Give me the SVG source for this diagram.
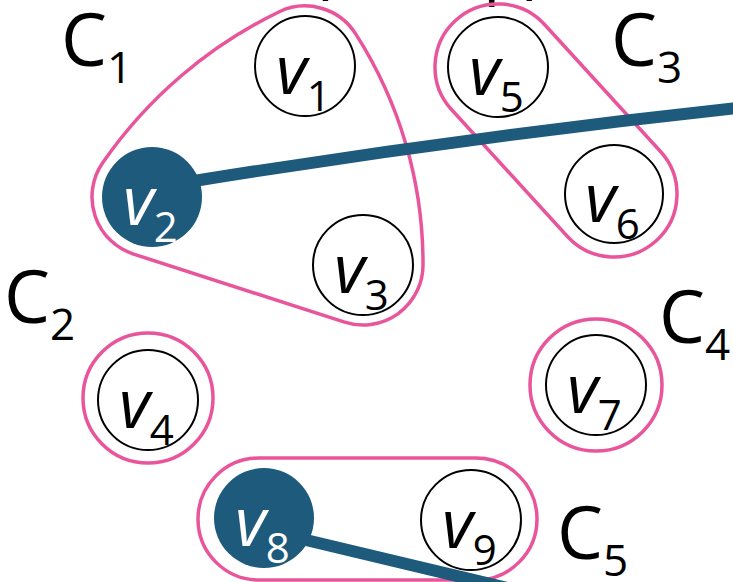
<svg xmlns="http://www.w3.org/2000/svg" width="733" height="582" viewBox="0 0 733 582">
<style>
.hull{fill:none;stroke:#e8559b;stroke-width:3.5}
.node{fill:#fff;stroke:#000;stroke-width:2}
.filled{fill:#1d5a7c;stroke:none}
.edge{fill:none;stroke:#1d5a7c;stroke-width:12;stroke-linecap:butt;stroke-linejoin:round}
.lbl{font-family:"Open Sans","Noto Sans",sans-serif;font-size:67px;font-style:italic;fill:#000}
.lbl tspan{font-size:42px;font-style:normal}
.white{fill:#fff}
.cl{font-family:"Open Sans","Noto Sans",sans-serif;font-size:73px;fill:#000}
.cl tspan{font-size:44px}
.top{font-family:"Open Sans","Noto Sans",sans-serif;font-size:70px;fill:#000}
</style>
<rect width="733" height="582" fill="#fff"/>
<text class="top" y="-10"><tspan x="310">(</tspan><tspan x="332">V</tspan><tspan x="372">,</tspan><tspan x="405">E</tspan><tspan x="448">,</tspan><tspan x="467">φ</tspan><tspan x="524">)</tspan></text>
<g id="hulls">
<path id="C1-hull" class="hull" d="M278.8,12 A60,60 0 0 1 355.5,33.6 A425.6,425.6 0 0 1 423,265.2 A60,60 0 0 1 344.6,322.1 L133.6,254.1 A60,60 0 0 1 102.7,162.8 A456.5,456.5 0 0 1 278.8,12 Z"/>
<rect id="C3-hull" class="hull" x="407" y="67.5" width="298" height="126" rx="63" transform="rotate(47.6 556 130.5)"/>
<circle id="C2-hull" class="hull" cx="148" cy="398" r="65"/>
<circle id="C4-hull" class="hull" cx="596" cy="385" r="66"/>
<rect id="C5-hull" class="hull" x="198" y="458" width="339" height="122" rx="61"/>
</g>
<g id="connectors">
<path class="edge" d="M180,183.2 L200,180 Q465.5,137.3 733,108.5 L745,107.2"/>
<path class="edge" d="M264,530 L520,591"/>
</g>
<g id="v1"><circle class="node" cx="305" cy="66" r="50"/><text class="lbl" x="276" y="94">v<tspan dy="17">1</tspan></text></g>
<g id="v2"><circle class="filled" cx="152" cy="197" r="50"/><text class="lbl white" x="123" y="225">v<tspan dy="17">2</tspan></text></g>
<g id="v3"><circle class="node" cx="363" cy="265" r="50"/><text class="lbl" x="334" y="293">v<tspan dy="17">3</tspan></text></g>
<g id="v4"><circle class="node" cx="148" cy="400" r="50"/><text class="lbl" x="119" y="428">v<tspan dy="17">4</tspan></text></g>
<g id="v5"><circle class="node" cx="498" cy="67" r="50"/><text class="lbl" x="469" y="95">v<tspan dy="17">5</tspan></text></g>
<g id="v6"><circle class="node" cx="614" cy="194" r="49"/><text class="lbl" x="585" y="222">v<tspan dy="17">6</tspan></text></g>
<g id="v7"><circle class="node" cx="596" cy="385" r="50"/><text class="lbl" x="567" y="413">v<tspan dy="17">7</tspan></text></g>
<g id="v8"><circle class="filled" cx="264" cy="518" r="50"/><text class="lbl white" x="235" y="546">v<tspan dy="17">8</tspan></text></g>
<g id="v9"><circle class="node" cx="471" cy="520" r="50"/><text class="lbl" x="442" y="548">v<tspan dy="17">9</tspan></text></g>
<g id="labels">
<text id="C1" class="cl" x="61" y="66">C<tspan dy="17">1</tspan></text>
<text id="C2" class="cl" x="4" y="323">C<tspan dy="17">2</tspan></text>
<text id="C3" class="cl" x="611" y="66">C<tspan dy="17">3</tspan></text>
<text id="C4" class="cl" x="659" y="343">C<tspan dy="17">4</tspan></text>
<text id="C5" class="cl" x="557" y="559">C<tspan dy="17">5</tspan></text>
</g>
</svg>
